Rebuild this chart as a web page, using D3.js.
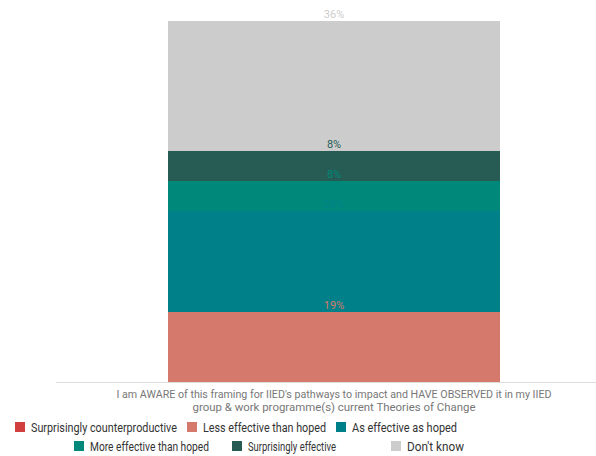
<!DOCTYPE html>
<html><head><meta charset="utf-8">
<script src="https://cdn.jsdelivr.net/npm/d3@7"></script>
<style>body{margin:0;background:#fff;} text{font-family:"Open Sans",sans-serif;}</style>
</head><body><svg id="c" width="596" height="456"></svg>
<script>
const categories = ["I am AWARE of this framing for IIED's pathways to impact and HAVE OBSERVED it in my IIED|group & work programme(s) current Theories of Change"];
const seriesNames = ["Surprisingly counterproductive","Less effective than hoped","As effective as hoped","More effective than hoped","Surprisingly effective","Don't know"];
const seriesColors = ["#d13f3f","#d4796b","#00818a","#00897a","#275c55","#cccccc"];
const values = [0, 19.4, 27.8, 8.3, 8.3, 36.1];

const svg = d3.select("#c");
const x = d3.scaleBand().domain(categories).range([56,596]).paddingInner(0.2).paddingOuter(0.2);
const y = d3.scaleLinear().domain([0, d3.sum(values)]).range([382,21]);

const row = {cat: categories[0]};
seriesNames.forEach((s,i)=>row[s]=values[i]);
const stack = d3.stack().keys(seriesNames)([row]);

const bx = 168, bw = 332;
svg.append("g").attr("shape-rendering","crispEdges").selectAll("rect").data(stack).join("rect")
  .attr("x", bx).attr("width", bw)
  .attr("y", d=>Math.round(y(d[0][1]))).attr("height", d=>Math.round(y(d[0][0]))-Math.round(y(d[0][1])))
  .attr("fill", (d,i)=>seriesColors[i]);

svg.append("line").attr("x1",56).attr("x2",596).attr("y1",382.5).attr("y2",382.5).attr("stroke","#dddddd");

svg.append("g").selectAll("text").data(stack.filter((d,i)=>values[i]>0)).join("text")
  .attr("x", bx+bw/2).attr("y", d=>y(d[0][1])-3)
  .attr("text-anchor","middle").attr("font-size",11)
  .style("font-family","Roboto")
  .attr("fill", d=>seriesColors[d.index])
  .text(d=>Math.round(values[d.index])+"%");

const cl = categories[0].split("|");
const clW = [435, 283];
svg.append("g").selectAll("text").data(cl).join("text")
  .attr("x", 334).attr("y",(d,i)=>398+i*12.5).attr("text-anchor","middle")
  .style("font-family","Roboto")
  .attr("font-size",11).attr("fill","#777")
  .attr("textLength",(d,i)=>clW[i]).attr("lengthAdjust","spacingAndGlyphs").text(d=>d);

const legPos = [[15,427],[187,427],[336,427],[74,446],[232,446],[391,446]];
const legW = [146, 123, 105, 119, 88, 57];
const lg = svg.append("g").selectAll("g").data(seriesNames).join("g")
  .attr("transform",(d,i)=>`translate(${legPos[i][0]},${legPos[i][1]})`);
lg.append("rect").attr("x",0).attr("y",-5).attr("width",10).attr("height",10).attr("fill",(d,i)=>seriesColors[i]);
lg.append("text").attr("x",16).attr("y",4.5).attr("font-size",13).attr("fill","#333")
  .style("font-family","Roboto")
  .attr("textLength",(d,i)=>legW[i]).attr("lengthAdjust","spacingAndGlyphs").text(d=>d);
</script></body></html>
